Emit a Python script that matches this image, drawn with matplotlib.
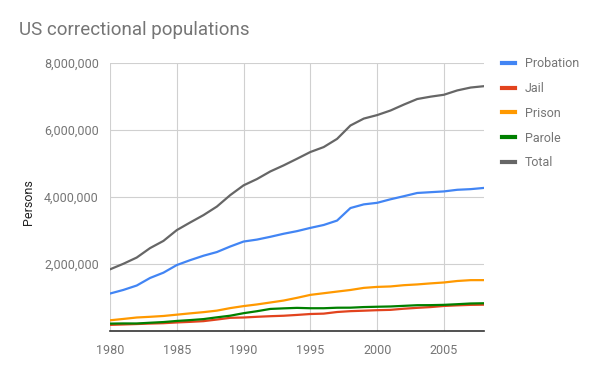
import matplotlib
matplotlib.use("Agg")
import matplotlib.pyplot as plt
from matplotlib.ticker import FuncFormatter, FixedLocator
from matplotlib.lines import Line2D

plt.rcParams['font.family'] = ['Roboto', 'DejaVu Sans']

years = list(range(1980, 2009))
probation = [1118097, 1225934, 1357264, 1582947, 1740948, 1968712, 2114621, 2247158, 2356483, 2522125,
             2670234, 2728472, 2811611, 2903061, 2981022, 3077861, 3164996, 3296513, 3670441, 3779922,
             3826209, 3931731, 4024067, 4120012, 4143792, 4166757, 4215361, 4234471, 4270917]
jail = [182288, 195085, 207853, 221815, 233018, 254986, 272736, 294092, 341893, 393303,
        403019, 424129, 441781, 455500, 479800, 507044, 518492, 567079, 592462, 605943,
        621149, 631240, 665475, 691301, 713990, 747529, 765819, 780174, 785556]
prison = [319598, 360029, 402914, 423898, 448264, 487593, 526436, 562814, 607766, 683367,
          743382, 792535, 850566, 909381, 990147, 1078542, 1127528, 1176564, 1224469, 1287172,
          1316333, 1330007, 1367547, 1390279, 1421345, 1448344, 1492973, 1517867, 1518559]
parole = [220438, 225539, 224604, 246440, 266992, 300203, 325638, 355505, 407977, 456803,
          531407, 590442, 658601, 676100, 690371, 679421, 679733, 694787, 696385, 714457,
          723898, 732333, 750934, 769925, 771852, 780616, 799875, 821177, 828169]
total = [1840400, 2006600, 2192600, 2475100, 2689200, 3011500, 3239400, 3459600, 3714100, 4055600,
         4348000, 4535600, 4762600, 4944000, 5141300, 5342900, 5490700, 5734900, 6134200, 6340800,
         6445100, 6581700, 6758800, 6924500, 6995100, 7051900, 7181500, 7267500, 7308200]

series_names = ["Probation", "Jail", "Prison", "Parole", "Total"]
series_values = [probation, jail, prison, parole, total]
colors = ["#4285f4", "#e2431e", "#ff9900", "#008000", "#666666"]

x_ticks = [1980, 1985, 1990, 1995, 2000, 2005]
y_ticks = [2000000, 4000000, 6000000, 8000000]

fig = plt.figure(figsize=(6.0, 3.71), dpi=100)
ax = fig.add_axes([110/600, 1-331/371, (484-110)/600, (331-63)/371])

for name, vals, c in zip(series_names, series_values, colors):
    ax.plot(years, vals, color=c, lw=1.6, label=name, solid_capstyle='round', zorder=3)

ax.set_xlim(1980, 2008)
ax.set_ylim(0, 8000000)
ax.xaxis.set_major_locator(FixedLocator(x_ticks))
ax.yaxis.set_major_locator(FixedLocator(y_ticks))
ax.yaxis.set_major_formatter(FuncFormatter(lambda v, p: f"{int(v):,}"))
ax.grid(True, color="#d0d0d0", lw=0.8, zorder=0)
for s in ["top", "right", "left"]:
    ax.spines[s].set_visible(False)
ax.spines["bottom"].set_color("#333333")
ax.spines["bottom"].set_linewidth(1.2)
ax.spines["bottom"].set_zorder(4)
ax.tick_params(length=0, labelsize=9, labelcolor="#757575", pad=8)
ax.tick_params(axis='x', pad=9)
ax.set_ylabel("Persons", fontsize=9, color="#222222")
ax.yaxis.set_label_coords(-0.201, 0.48)

fig.text(19/600, 1-30/371, "US correctional populations", fontsize=13.5, color="#757575",
         va="center", ha="left")

handles = [Line2D([0], [0], color=c, lw=3) for c in colors]
fig.legend(handles, series_names, loc="upper left", bbox_to_anchor=(497/600, 1-52/371),
           frameon=False, fontsize=9, labelcolor="#757575", handlelength=1.0,
           handletextpad=0.8, labelspacing=0.95, borderaxespad=0)

fig.savefig("out.png", dpi=100, facecolor="white")
